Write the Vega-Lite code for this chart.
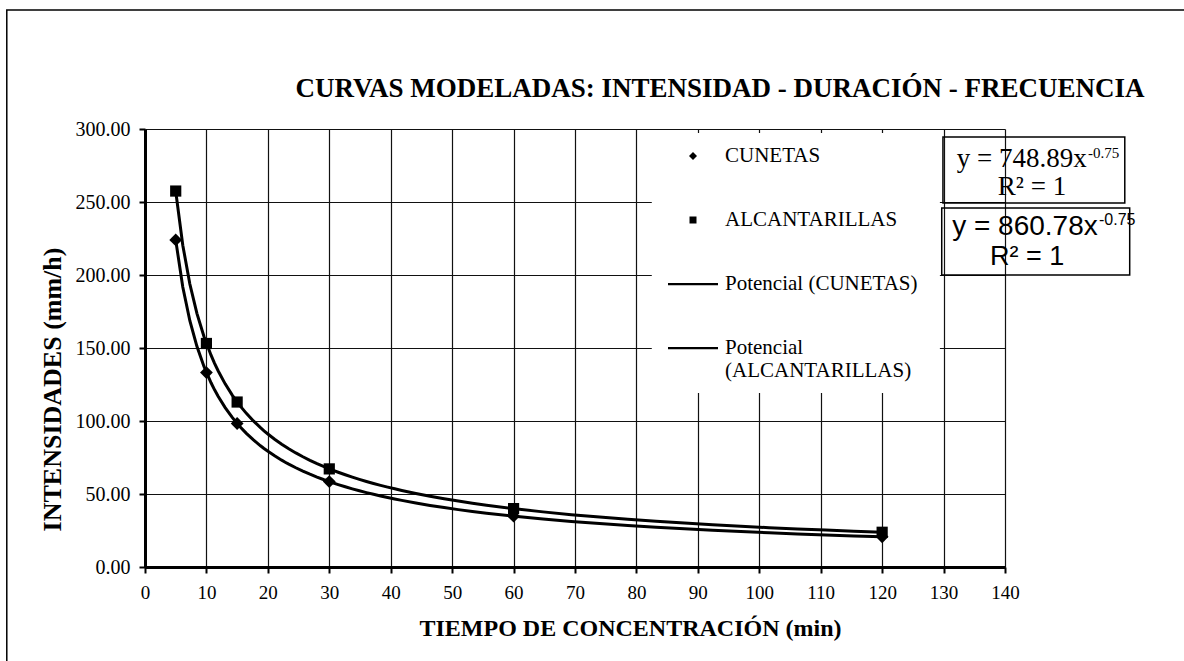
{
  "$schema": "https://vega.github.io/schema/vega-lite/v6.json",
  "width": 860,
  "height": 438,
  "autosize": {"type": "none"},
  "padding": {"left": 145, "top": 129, "right": 179, "bottom": 94},
  "background": "white",
  "config": {
    "font": "Liberation Serif",
    "view": {"stroke": null},
    "axis": {
      "grid": true,
      "gridColor": "#111111",
      "gridWidth": 1.2,
      "domainColor": "black",
      "domainWidth": 3,
      "tickColor": "black",
      "tickWidth": 2,
      "tickSize": 6,
      "labelFont": "Liberation Serif",
      "labelFontSize": 19,
      "labelColor": "black",
      "labelFlush": false,
      "labelBound": false,
      "titleFont": "Liberation Serif",
      "titleFontSize": 24,
      "titleFontWeight": "bold",
      "titleColor": "black"
    }
  },
  "datasets": {
    "idf": [
      {"t": 5, "i": 224.0, "serie": "CUNETAS"},
      {"t": 10, "i": 133.2, "serie": "CUNETAS"},
      {"t": 15, "i": 98.3, "serie": "CUNETAS"},
      {"t": 30, "i": 58.5, "serie": "CUNETAS"},
      {"t": 60, "i": 34.8, "serie": "CUNETAS"},
      {"t": 120, "i": 20.7, "serie": "CUNETAS"},
      {"t": 5, "i": 257.5, "serie": "ALCANTARILLAS"},
      {"t": 10, "i": 153.1, "serie": "ALCANTARILLAS"},
      {"t": 15, "i": 113.0, "serie": "ALCANTARILLAS"},
      {"t": 30, "i": 67.2, "serie": "ALCANTARILLAS"},
      {"t": 60, "i": 40.0, "serie": "ALCANTARILLAS"},
      {"t": 120, "i": 23.8, "serie": "ALCANTARILLAS"}
    ],
    "one": [{"k": 1}]
  },
  "layer": [
    {
      "data": {"name": "one"},
      "mark": {"type": "rect", "fill": "white", "stroke": null},
      "encoding": {
        "x": {"datum": 82.5, "type": "quantitative", "scale": {"domain": [0, 140], "nice": false}},
        "x2": {"datum": 129.4},
        "y": {"datum": 297.3, "type": "quantitative", "scale": {"domain": [0, 300], "nice": false}},
        "y2": {"datum": 119.2}
      }
    },
    {
      "data": {"name": "one"},
      "mark": {"type": "rect", "filled": false, "color": "black", "strokeWidth": 1.5},
      "encoding": {
        "x": {"datum": -22.5, "type": "quantitative", "scale": {"domain": [0, 140], "nice": false}},
        "x2": {"datum": 250},
        "y": {"datum": 381.5, "type": "quantitative", "scale": {"domain": [0, 300], "nice": false}},
        "y2": {"datum": -200}
      }
    },
    {
      "data": {"name": "one"},
      "mark": {"type": "text", "text": "CURVAS MODELADAS: INTENSIDAD - DURACIÓN - FRECUENCIA", "font": "Liberation Serif", "fontSize": 27, "fontWeight": "bold", "align": "center", "baseline": "alphabetic", "fill": "black", "stroke": null},
      "encoding": {
        "x": {"datum": 93.6, "type": "quantitative", "scale": {"domain": [0, 140], "nice": false}},
        "y": {"datum": 321.9, "type": "quantitative", "scale": {"domain": [0, 300], "nice": false}}
      }
    },
    {
      "data": {"name": "one"},
      "mark": {"type": "rect", "filled": false, "color": "black", "strokeWidth": 1.5},
      "encoding": {
        "x": {"datum": 129.9, "type": "quantitative", "scale": {"domain": [0, 140], "nice": false}},
        "x2": {"datum": 159.5},
        "y": {"datum": 294.5, "type": "quantitative", "scale": {"domain": [0, 300], "nice": false}},
        "y2": {"datum": 249.3}
      }
    },
    {
      "data": {"name": "one"},
      "mark": {"type": "rect", "filled": false, "color": "black", "strokeWidth": 1.5},
      "encoding": {
        "x": {"datum": 129.7, "type": "quantitative", "scale": {"domain": [0, 140], "nice": false}},
        "x2": {"datum": 160.3},
        "y": {"datum": 245.9, "type": "quantitative", "scale": {"domain": [0, 300], "nice": false}},
        "y2": {"datum": 200.0}
      }
    },
    {
      "data": {"name": "one"},
      "mark": {"type": "text", "text": "y = 748.89x", "font": "Liberation Serif", "fontSize": 27, "align": "right", "baseline": "alphabetic", "fill": "black", "stroke": null},
      "encoding": {
        "x": {"datum": 153.3, "type": "quantitative", "scale": {"domain": [0, 140], "nice": false}},
        "y": {"datum": 274.0, "type": "quantitative", "scale": {"domain": [0, 300], "nice": false}}
      }
    },
    {
      "data": {"name": "one"},
      "mark": {"type": "text", "text": "-0.75", "font": "Liberation Serif", "fontSize": 15, "align": "left", "baseline": "alphabetic", "fill": "black", "stroke": null},
      "encoding": {
        "x": {"datum": 153.5, "type": "quantitative", "scale": {"domain": [0, 140], "nice": false}},
        "y": {"datum": 280.3, "type": "quantitative", "scale": {"domain": [0, 300], "nice": false}}
      }
    },
    {
      "data": {"name": "one"},
      "mark": {"type": "text", "text": "R² = 1", "font": "Liberation Serif", "fontSize": 27, "align": "center", "baseline": "alphabetic", "fill": "black", "stroke": null},
      "encoding": {
        "x": {"datum": 144.4, "type": "quantitative", "scale": {"domain": [0, 140], "nice": false}},
        "y": {"datum": 254.8, "type": "quantitative", "scale": {"domain": [0, 300], "nice": false}}
      }
    },
    {
      "data": {"name": "one"},
      "mark": {"type": "text", "text": "y = 860.78x", "font": "Liberation Sans", "fontSize": 28, "align": "right", "baseline": "alphabetic", "fill": "black", "stroke": null},
      "encoding": {
        "x": {"datum": 155.1, "type": "quantitative", "scale": {"domain": [0, 140], "nice": false}},
        "y": {"datum": 227.4, "type": "quantitative", "scale": {"domain": [0, 300], "nice": false}}
      }
    },
    {
      "data": {"name": "one"},
      "mark": {"type": "text", "text": "-0.75", "font": "Liberation Sans", "fontSize": 16, "align": "left", "baseline": "alphabetic", "fill": "black", "stroke": null},
      "encoding": {
        "x": {"datum": 155.3, "type": "quantitative", "scale": {"domain": [0, 140], "nice": false}},
        "y": {"datum": 234.5, "type": "quantitative", "scale": {"domain": [0, 300], "nice": false}}
      }
    },
    {
      "data": {"name": "one"},
      "mark": {"type": "text", "text": "R² = 1", "font": "Liberation Sans", "fontSize": 27, "align": "center", "baseline": "alphabetic", "fill": "black", "stroke": null},
      "encoding": {
        "x": {"datum": 143.6, "type": "quantitative", "scale": {"domain": [0, 140], "nice": false}},
        "y": {"datum": 206.8, "type": "quantitative", "scale": {"domain": [0, 300], "nice": false}}
      }
    },
    {
      "data": {"name": "idf"},
      "transform": [
        {"regression": "i", "on": "t", "groupby": ["serie"], "method": "pow", "extent": [5, 120]}
      ],
      "mark": {"type": "line", "color": "black", "strokeWidth": 3},
      "encoding": {
        "x": {"field": "t", "type": "quantitative", "scale": {"domain": [0, 140], "nice": false}},
        "y": {"field": "i", "type": "quantitative", "scale": {"domain": [0, 300], "nice": false}},
        "detail": {"field": "serie"}
      }
    },
    {
      "data": {"name": "idf"},
      "mark": {"type": "point", "filled": true, "size": 6400, "color": "black", "opacity": 1},
      "encoding": {
        "x": {
          "field": "t",
          "type": "quantitative",
          "scale": {"domain": [0, 140], "nice": false},
          "axis": {
            "values": [0, 10, 20, 30, 40, 50, 60, 70, 80, 90, 100, 110, 120, 130, 140],
            "labelPadding": 10,
            "title": "TIEMPO DE CONCENTRACIÓN (min)",
            "titleX": 485,
            "titleY": 68,
            "titleAlign": "center",
            "titleBaseline": "alphabetic"
          }
        },
        "y": {
          "field": "i",
          "type": "quantitative",
          "scale": {"domain": [0, 300], "nice": false},
          "axis": {
            "values": [0, 50, 100, 150, 200, 250, 300],
            "format": ".2f",
            "labelFontSize": 20,
            "labelPadding": 9,
            "title": "INTENSIDADES (mm/h)",
            "titleFontSize": 26,
            "titleX": -93,
            "titleY": 260,
            "titleAngle": -90,
            "titleAlign": "center",
            "titleBaseline": "middle"
          }
        },
        "shape": {
          "field": "serie",
          "type": "nominal",
          "scale": {
            "domain": ["CUNETAS", "ALCANTARILLAS", "Potencial (CUNETAS)", "Potencial (ALCANTARILLAS)"],
            "range": [
              "M0,-0.16L0.16,0L0,0.16L-0.16,0Z",
              "M-0.14,-0.14L0.14,-0.14L0.14,0.14L-0.14,0.14Z",
              "M-1,-0.045L1,-0.045L1,0.045L-1,0.045Z",
              "M-1,-0.045L1,-0.045L1,0.045L-1,0.045Z"
            ]
          },
          "legend": {
            "title": null,
            "orient": "none",
            "legendX": 522,
            "legendY": 1,
            "padding": 0,
            "symbolSize": 2500,
            "symbolFillColor": "black",
            "symbolOpacity": 1,
            "labelFont": "Liberation Serif",
            "labelFontSize": 21,
            "labelColor": "black",
            "labelOffset": 6,
            "labelLimit": 400,
            "rowPadding": 28,
            "labelExpr": "datum.label == 'Potencial (ALCANTARILLAS)' ? ['Potencial', '(ALCANTARILLAS)'] : datum.label"
          }
        }
      }
    }
  ]
}
